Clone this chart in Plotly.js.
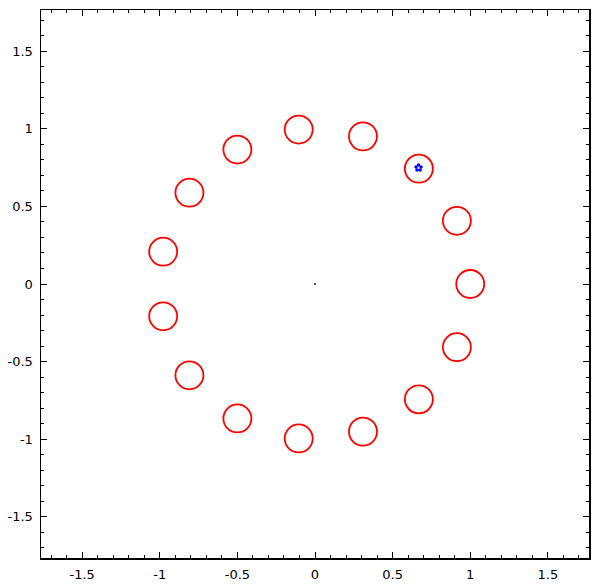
<!DOCTYPE html>
<html>
<head>
<meta charset="utf-8">
<script src="https://cdn.plot.ly/plotly-3.0.1.min.js"></script>
<style>
  html, body { margin: 0; padding: 0; background: #fff; }
  #chart { width: 599px; height: 584px; }
</style>
</head>
<body>
<div id="chart"></div>
<script>
// centres of the red rings
const ringX = [1.0, 0.914, 0.669, 0.309, -0.105, -0.5, -0.809, -0.978,
               -0.978, -0.809, -0.5, -0.105, 0.309, 0.669, 0.914];
const ringY = [0.0, 0.407, 0.743, 0.951, 0.995, 0.866, 0.588, 0.208,
               -0.208, -0.588, -0.866, -0.995, -0.951, -0.743, -0.407];

// small blue cluster inside the ring at (0.669, 0.743)
const dotX = [0.667, 0.683, 0.677, 0.657, 0.651];
const dotY = [0.766, 0.753, 0.734, 0.734, 0.753];

// the tiny point at the origin
const originX = [0];
const originY = [0];

const tickVals = [-1.5, -1, -0.5, 0, 0.5, 1, 1.5];
const tickText = ['-1.5', '-1', '-0.5', '0', '0.5', '1', '1.5'];

const font = { family: 'DejaVu Sans', size: 13, color: '#000' };

const axis = {
    range: [-1.765, 1.765],
    tickvals: tickVals,
    ticktext: tickText,
    ticks: 'inside',
    ticklen: 6,
    tickwidth: 1,
    tickcolor: '#000',
    minor: { dtick: 0.1, ticks: 'inside', ticklen: 3, tickwidth: 1, tickcolor: '#000' },
    showline: true,
    linecolor: '#000',
    linewidth: 1.5,
    mirror: 'allticks',
    showgrid: false,
    zeroline: false,
    tickfont: font,
    ticklabelstandoff: 4
};

const traces = [
    {
        x: ringX, y: ringY,
        type: 'scatter', mode: 'markers',
        marker: { symbol: 'circle-open', size: 28, color: '#ff0000', line: { width: 1.8, color: '#ff0000' } },
        hoverinfo: 'skip'
    },
    {
        x: dotX, y: dotY,
        type: 'scatter', mode: 'markers',
        marker: { symbol: 'circle', size: 3.5, color: '#0000ff' },
        hoverinfo: 'skip'
    },
    {
        x: originX, y: originY,
        type: 'scatter', mode: 'markers',
        marker: { symbol: 'square', size: 2, color: '#555' },
        hoverinfo: 'skip'
    }
];

const layout = {
    width: 599, height: 584,
    margin: { l: 41, r: 10, t: 10, b: 26 },
    paper_bgcolor: '#fff', plot_bgcolor: '#fff',
    showlegend: false,
    font: font,
    xaxis: axis,
    yaxis: axis
};

Plotly.newPlot('chart', traces, layout, { displayModeBar: false, staticPlot: true });
</script>
</body>
</html>
